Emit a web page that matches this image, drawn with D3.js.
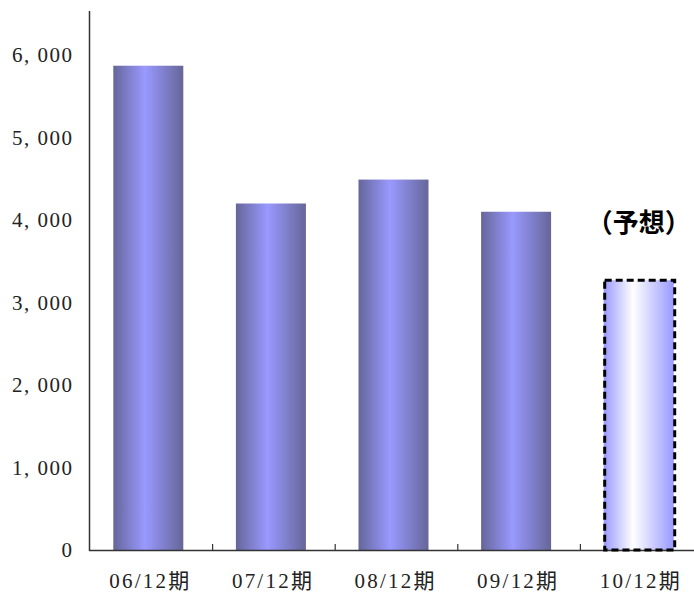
<!DOCTYPE html>
<html><head><meta charset="utf-8">
<script src="https://cdn.jsdelivr.net/npm/d3@7"></script>
<style>body{margin:0;background:#fff}svg{display:block}</style>
</head><body>
<script>
const categories = ["06/12期","07/12期","08/12期","09/12期","10/12期"];
const values = [5870, 4200, 4490, 4100, 3270];
const forecast = [false, false, false, false, true];
const yTicks = [0,1000,2000,3000,4000,5000,6000];
const forecastLabel = "（予想）";

const W = 694, H = 593;
const x0 = 90, x1 = 703, yTop = 11;
const y0 = 550;
const svg = d3.select("body").append("svg").attr("width", W).attr("height", H);

const x = d3.scaleBand().domain(categories).range([x0, x1]).paddingInner(0).paddingOuter(0);
const y = d3.scaleLinear().domain([0, 6000]).range([y0, 55]);

const defs = svg.append("defs");
const g1 = defs.append("linearGradient").attr("id","gBar").attr("x1","0").attr("x2","1").attr("y1","0").attr("y2","0");
[[0,"#66669a"],[0.45,"#9999ff"],[1,"#666699"]].forEach(s=>g1.append("stop").attr("offset",s[0]).attr("stop-color",s[1]));
const g2 = defs.append("linearGradient").attr("id","gFc").attr("x1","0").attr("x2","1").attr("y1","0").attr("y2","0");
[[0,"#9999ff"],[0.42,"#ffffff"],[1,"#9999ff"]].forEach(s=>g2.append("stop").attr("offset",s[0]).attr("stop-color",s[1]));

const bw = 70;
const bx = d => x(d) + x.bandwidth()/2 - 3 - bw/2;

// bars
svg.selectAll("rect.bar").data(categories).enter().append("rect")
  .attr("class","bar")
  .attr("x", d => bx(d))
  .attr("width", bw)
  .attr("y", (d,i) => y(values[i]))
  .attr("height", (d,i) => y0 - y(values[i]))
  .attr("fill", (d,i) => forecast[i] ? "url(#gFc)" : "url(#gBar)");

// axes
const yAxis = d3.axisLeft(y).tickValues(yTicks).tickSize(0).tickPadding(18)
  .tickFormat(d => d === 0 ? "0" : d3.format(",")(d).replace(",", ", "));
const ya = svg.append("g").attr("transform", `translate(${x0},0)`).call(yAxis);
ya.select(".domain").remove();
ya.selectAll("text").attr("font-family","'Liberation Serif','DejaVu Serif',serif").attr("font-size",21).attr("fill","#222")
  .each(function(d){ if(d !== 0) d3.select(this).attr("textLength",60).attr("lengthAdjust","spacing"); });
svg.append("line").attr("x1",x0-0.5).attr("x2",x0-0.5).attr("y1",yTop).attr("y2",y0+1).attr("stroke","#333").attr("stroke-width",1.5);

const xAxis = d3.axisBottom(x).tickSize(0).tickPadding(20);
const xa = svg.append("g").attr("transform", `translate(0,${y0})`).call(xAxis);
xa.select(".domain").remove();
xa.selectAll("text").attr("font-family","'Liberation Serif','Noto Sans CJK JP',serif").attr("font-size",21).attr("fill","#222")
  .attr("dy","0.85em").attr("dx",-2).attr("textLength",80).attr("lengthAdjust","spacing");
svg.append("line").attr("x1",x0-1).attr("x2",W).attr("y1",y0+0.5).attr("y2",y0+0.5).attr("stroke","#333").attr("stroke-width",1.5);
// category boundary ticks (pointing up)
svg.selectAll("line.ctick").data(categories.slice(1)).enter().append("line")
  .attr("class","ctick")
  .attr("x1", d => x(d)).attr("x2", d => x(d))
  .attr("y1", y0-6).attr("y2", y0)
  .attr("stroke","#333").attr("stroke-width",1.2);

// forecast dashed border
categories.forEach((c,i)=>{
  if(!forecast[i]) return;
  svg.append("rect").attr("x", bx(c)+1).attr("y", y(values[i])).attr("width", bw).attr("height", y0 - y(values[i]))
    .attr("fill","none").attr("stroke","#000").attr("stroke-width",3).attr("stroke-dasharray","7,4");
  svg.append("text").attr("x", bx(c)+bw/2).attr("y", y(4000)+12)
    .attr("text-anchor","middle").attr("font-family","'Noto Sans CJK JP',sans-serif").attr("font-weight","bold")
    .attr("font-size",26).attr("fill","#000").text(forecastLabel);
});
</script>
</body></html>
